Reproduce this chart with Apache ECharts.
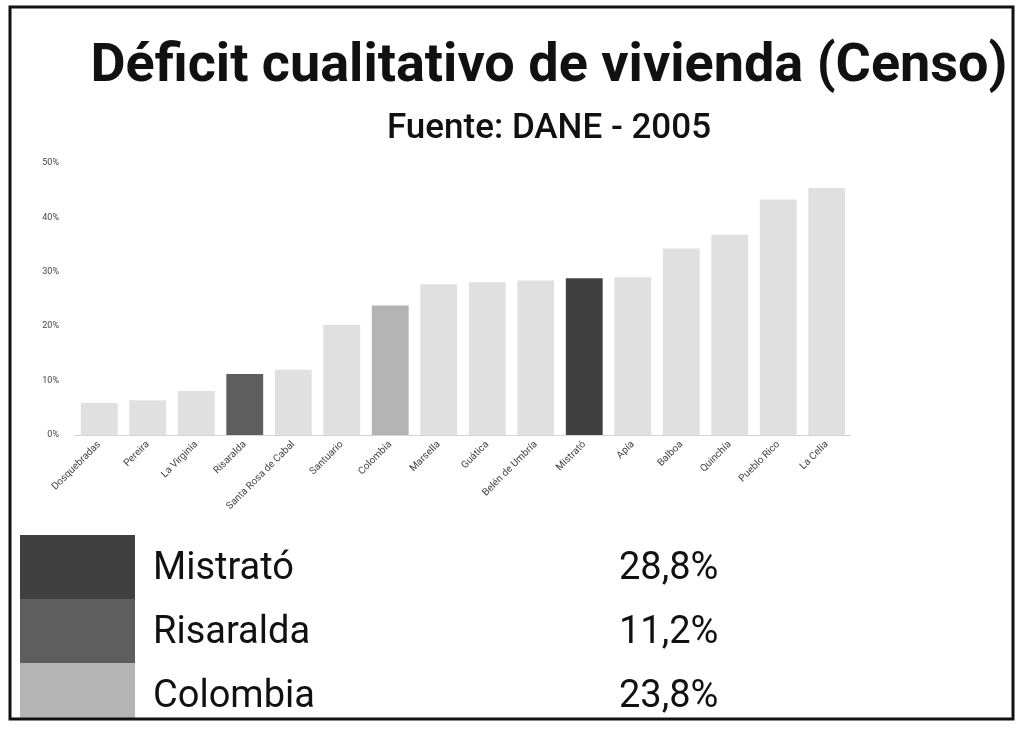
<!DOCTYPE html>
<html>
<head>
<meta charset="utf-8">
<script src="https://cdn.jsdelivr.net/npm/echarts@6/dist/echarts.min.js"></script>
<style>
  html, body { margin: 0; padding: 0; background: #fff; }
  #chart { width: 1016px; height: 733px; }
</style>
</head>
<body>
<div id="chart"></div>
<script>
// datos (Censo DANE 2005)
var municipios = ['Dosquebradas', 'Pereira', 'La Virginia', 'Risaralda', 'Santa Rosa de Cabal', 'Santuario',
    'Colombia', 'Marsella', 'Guática', 'Belén de Umbría', 'Mistrató', 'Apía', 'Balboa', 'Quinchía',
    'Pueblo Rico', 'La Celia'];
var deficit = [5.9, 6.4, 8.1, 11.2, 12.0, 20.2, 23.8, 27.7, 28.1, 28.4, 28.8, 29.0, 34.3, 36.8, 43.3, 45.4];

// destacados en la leyenda
var destacados = ['Mistrató', 'Risaralda', 'Colombia'];
var valoresDestacados = ['28,8%', '11,2%', '23,8%'];
var coloresDestacados = ['#404040', '#5e5e5e', '#b4b4b4'];
var colorResto = '#e0e0e0';

var eChart = echarts.init(document.getElementById('chart'));

// color de cada barra
var datosBarras = deficit.map(function (v, i) {
    var k = destacados.indexOf(municipios[i]);
    return {
        value: v,
        itemStyle: { color: k >= 0 ? coloresDestacados[k] : colorResto }
    };
});

// leyenda dibujada a mano
var leyenda = [];
destacados.forEach(function (nombre, i) {
    var y = 535 + i * 64;
    leyenda.push({
        type: 'rect',
        shape: { x: 20, y: y, width: 115, height: i === 2 ? 56 : 64 },
        style: { fill: coloresDestacados[i] }
    });
    leyenda.push({
        type: 'text',
        x: 153, y: y + 34,
        style: { text: nombre, font: '38px Roboto', fill: '#111', verticalAlign: 'middle' }
    });
    leyenda.push({
        type: 'text',
        x: 619, y: y + 34,
        style: { text: valoresDestacados[i], font: '38px Roboto', fill: '#111', verticalAlign: 'middle' }
    });
});
// marco
leyenda.push({
    type: 'rect',
    shape: { x: 10, y: 7, width: 1003, height: 712 },
    style: { fill: 'none', stroke: '#111', lineWidth: 3 },
    z: 100
});

var option = {
    backgroundColor: '#fff',
    title: {
        text: 'Déficit cualitativo de vivienda (Censo)',
        subtext: 'Fuente: DANE - 2005',
        left: 544,
        textAlign: 'center',
        top: 35,
        itemGap: 18,
        textStyle: { fontFamily: 'Roboto', fontSize: 54, fontWeight: 'bold', color: '#111' },
        subtextStyle: { fontFamily: 'Roboto', fontSize: 35, fontWeight: 500, color: '#111' }
    },
    grid: { left: 75, right: 165, top: 163, bottom: 298 },
    xAxis: {
        type: 'category',
        data: municipios,
        axisTick: { show: false },
        axisLine: { lineStyle: { color: '#ccc', type: 'dotted' } },
        axisLabel: { rotate: 45, fontSize: 10, color: '#444', fontFamily: 'Roboto', interval: 0, margin: 8 }
    },
    yAxis: {
        type: 'value',
        min: 0, max: 50, interval: 10,
        splitLine: { show: false },
        axisLabel: { formatter: '{value}%', fontSize: 9, color: '#444', fontFamily: 'Roboto', margin: 16 }
    },
    series: [{
        type: 'bar',
        data: datosBarras,
        barCategoryGap: '24%'
    }],
    graphic: leyenda
};

eChart.setOption(option);
</script>
</body>
</html>
